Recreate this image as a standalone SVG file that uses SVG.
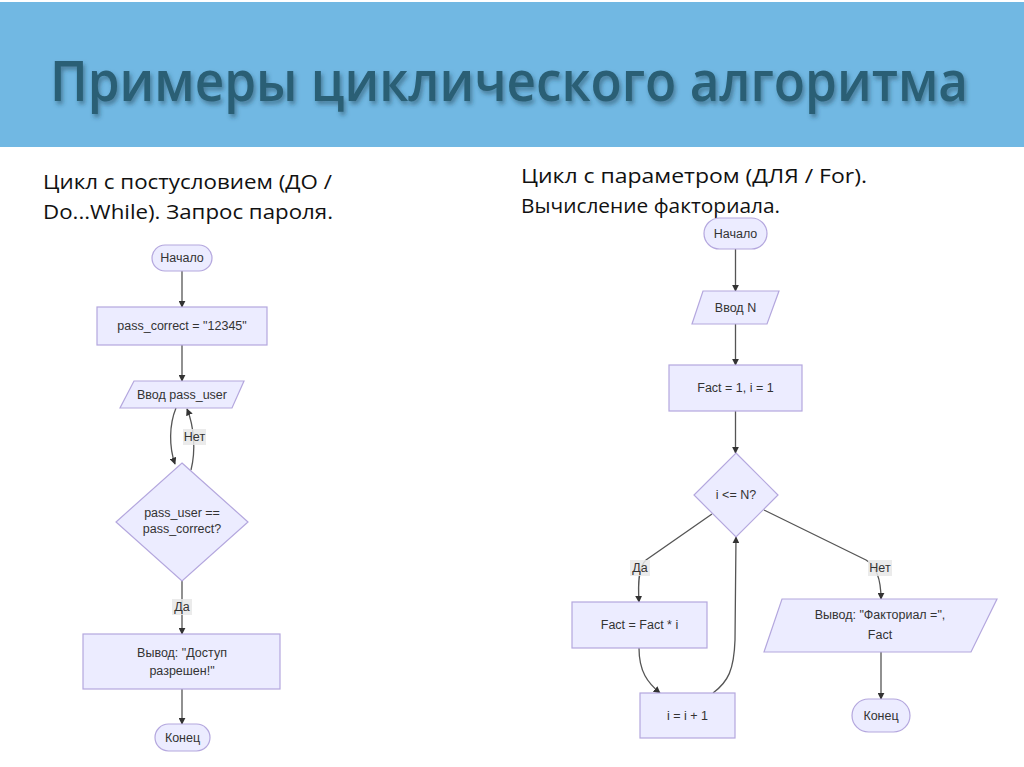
<svg xmlns="http://www.w3.org/2000/svg" width="1024" height="767" viewBox="0 0 1024 767">
<defs>
<style>
.node{fill:#ECECFF;stroke:#B4A7DE;stroke-width:1.2}
.nt{font-family:"Liberation Sans","DejaVu Sans",sans-serif;font-size:12.5px;fill:#333;text-anchor:middle}
.edge{fill:none;stroke:#555;stroke-width:1.3}
.lbg{fill:#E8E8E8;opacity:0.85}
.cap{font-family:"Open Sans","Noto Sans",sans-serif;font-size:20.5px;fill:#111}
</style>
<marker id="arr" viewBox="0 0 10 10" refX="9" refY="5" markerWidth="7" markerHeight="7" orient="auto" markerUnits="userSpaceOnUse">
<path d="M0,0 L10,5 L0,10 z" fill="#333"/>
</marker>
<filter id="sh" x="-10%" y="-50%" width="120%" height="200%">
<feDropShadow dx="2" dy="3" stdDeviation="2" flood-color="#1d3f52" flood-opacity="0.5"/>
</filter>
</defs>
<rect x="0" y="0" width="1024" height="767" fill="#FFFFFF"/>
<rect x="0" y="2" width="1024" height="145" fill="#71B8E3"/>
<text transform="translate(50,101) scale(1,1.12)" x="0" y="0" font-family="'Open Sans','Noto Sans',sans-serif" font-size="50" font-weight="600" fill="#2B5F75" textLength="918" lengthAdjust="spacingAndGlyphs" filter="url(#sh)">Примеры циклического алгоритма</text>

<text class="cap" x="43" y="189" textLength="289" lengthAdjust="spacingAndGlyphs">Цикл с постусловием (ДО /</text>
<text class="cap" x="43" y="219" textLength="290" lengthAdjust="spacingAndGlyphs">Do...While). Запрос пароля.</text>
<text class="cap" x="521" y="183" textLength="346" lengthAdjust="spacingAndGlyphs">Цикл с параметром (ДЛЯ / For).</text>
<text class="cap" x="521" y="213" textLength="259" lengthAdjust="spacingAndGlyphs">Вычисление факториала.</text>

<g id="connectors">
<path class="edge" d="M182,271 L182,307" marker-end="url(#arr)"/>
<path class="edge" d="M182,345 L182,381" marker-end="url(#arr)"/>
<path class="edge" d="M176,408 C169,425 169,447 175,464" marker-end="url(#arr)"/>
<path class="edge" d="M191,470 C196,450 194,426 187,409" marker-end="url(#arr)"/>
<path class="edge" d="M182,581 L182,634" marker-end="url(#arr)"/>
<path class="edge" d="M182,689 L182,724" marker-end="url(#arr)"/>

<path class="edge" d="M735.5,249 L735.5,291" marker-end="url(#arr)"/>
<path class="edge" d="M735.5,324 L735.5,365" marker-end="url(#arr)"/>
<path class="edge" d="M735.5,411 L735.5,453" marker-end="url(#arr)"/>
<path class="edge" d="M712,514 L646,560 C638,567 638,585 639,602" marker-end="url(#arr)"/>
<path class="edge" d="M764,510 L866,560 C878,567 881,585 881,599" marker-end="url(#arr)"/>
<path class="edge" d="M639,648 C639,672 648,683 660,693" marker-end="url(#arr)"/>
<path class="edge" d="M713,693 C728,682 734,670 735,640 L736,537" marker-end="url(#arr)"/>
<path class="edge" d="M881,652 L881,699" marker-end="url(#arr)"/>

<rect class="lbg" x="183" y="429" width="23" height="16"/>
<text class="nt" x="194.5" y="441">Нет</text>
<rect class="lbg" x="172" y="599" width="20" height="16"/>
<text class="nt" x="182" y="611">Да</text>
<rect class="lbg" x="630" y="560" width="20" height="16"/>
<text class="nt" x="640" y="572">Да</text>
<rect class="lbg" x="868" y="560" width="24" height="16"/>
<text class="nt" x="880" y="572">Нет</text>
</g>

<g id="start1">
<rect class="node" x="152" y="245" width="60" height="26" rx="13"/>
<text class="nt" x="182" y="262">Начало</text>
</g>
<g id="passcorrect">
<rect class="node" x="97" y="307" width="170" height="38"/>
<text class="nt" x="182" y="330">pass_correct = "12345"</text>
</g>
<g id="inputuser">
<polygon class="node" points="134,381 244,381 232,408 120,408"/>
<text class="nt" x="182" y="399">Ввод pass_user</text>
</g>
<g id="check1">
<polygon class="node" points="182,463 248,522 182,581 116,522"/>
<text class="nt" x="182" y="517">pass_user ==</text>
<text class="nt" x="182" y="533">pass_correct?</text>
</g>
<g id="out1">
<rect class="node" x="83" y="634" width="197" height="55"/>
<text class="nt" x="182" y="657">Вывод: "Доступ</text>
<text class="nt" x="182" y="675">разрешен!"</text>
</g>
<g id="end1">
<rect class="node" x="155" y="724" width="55" height="27" rx="13.5"/>
<text class="nt" x="182.5" y="742">Конец</text>
</g>

<g id="start2">
<rect class="node" x="704" y="218" width="63" height="31" rx="15.5"/>
<text class="nt" x="735.5" y="238">Начало</text>
</g>
<g id="inputN">
<polygon class="node" points="703,291 779,291 767,324 692,324"/>
<text class="nt" x="735.5" y="312">Ввод N</text>
</g>
<g id="init">
<rect class="node" x="669" y="365" width="133" height="46"/>
<text class="nt" x="735.5" y="392">Fact = 1, i = 1</text>
</g>
<g id="check2">
<polygon class="node" points="736,453 778,495 736,537 694,495"/>
<text class="nt" x="736" y="499">i &lt;= N?</text>
</g>
<g id="mult">
<rect class="node" x="572" y="602" width="135" height="46"/>
<text class="nt" x="639.5" y="629">Fact = Fact * i</text>
</g>
<g id="inc">
<rect class="node" x="640" y="693" width="95" height="45"/>
<text class="nt" x="687.5" y="720">i = i + 1</text>
</g>
<g id="out2">
<polygon class="node" points="782,599 997,599 971,652 764,652"/>
<text class="nt" x="880" y="619">Вывод: "Факториал =",</text>
<text class="nt" x="880" y="639">Fact</text>
</g>
<g id="end2">
<rect class="node" x="852" y="699" width="58" height="33" rx="16.5"/>
<text class="nt" x="881" y="720">Конец</text>
</g>
</svg>
